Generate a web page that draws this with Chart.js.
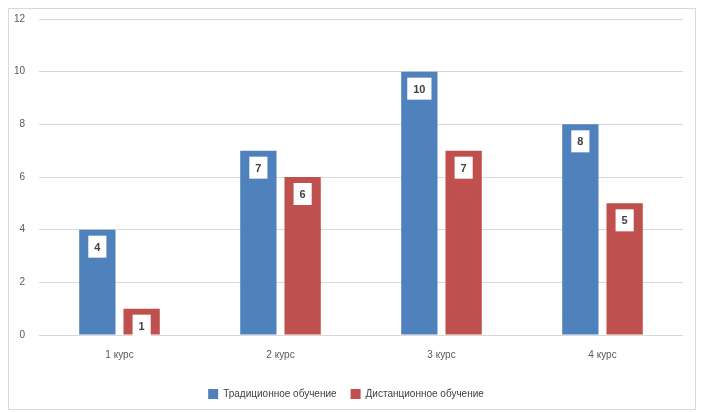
<!DOCTYPE html>
<html>
<head>
<meta charset="utf-8">
<script src="https://cdn.jsdelivr.net/npm/chart.js@4"></script>
<style>
    body { margin: 0; background: #fff; }
    #wrap { position: absolute; left: 8px; top: 8px; width: 688px; height: 402px; border: 1px solid #d9d9d9; box-sizing: border-box; overflow: hidden; }
    canvas { display: block; margin-top: -10px; }
</style>
</head>
<body>
<div id="wrap"><canvas id="kursChart" width="686" height="410"></canvas></div>
<script>
const kursy = ['1 курс', '2 курс', '3 курс', '4 курс']
const tradicionnoe = [4, 7, 10, 8]
const distancionnoe = [1, 6, 7, 5]
const yTicks = [0, 2, 4, 6, 8, 10, 12]

// white label boxes inside the top of each bar
const boxLabels = {
    id: 'boxLabels',
    afterDatasetsDraw(chart) {
        const ctx = chart.ctx
        ctx.save()
        ctx.font = 'bold 11px "Liberation Sans", Arial, sans-serif'
        ctx.textAlign = 'center'
        ctx.textBaseline = 'middle'
        chart.data.datasets.forEach((ds, i) => {
            chart.getDatasetMeta(i).data.forEach((bar, j) => {
                const txt = String(ds.data[j])
                const w = ctx.measureText(txt).width + 12
                const h = 22
                const top = bar.y + 6
                ctx.fillStyle = '#ffffff'
                ctx.fillRect(bar.x - w / 2, top, w, h)
                ctx.fillStyle = '#404040'
                ctx.fillText(txt, bar.x, top + h / 2 + 1)
            })
        })
        ctx.restore()
    }
}

new Chart(document.getElementById('kursChart'), {
    type: 'bar',
    data: {
        labels: kursy,
        datasets: [{
            label: 'Традиционное обучение',
            data: tradicionnoe,
            backgroundColor: '#4f81bd',
            categoryPercentage: 0.55,
            barPercentage: 0.82
        }, {
            label: 'Дистанционное обучение',
            data: distancionnoe,
            backgroundColor: '#c0504d',
            categoryPercentage: 0.55,
            barPercentage: 0.82
        }]
    },
    options: {
        responsive: false,
        animation: false,
        layout: { padding: { left: 0, right: 12, top: 0, bottom: 0 } },
        plugins: {
            tooltip: { enabled: false },
            legend: {
                position: 'bottom',
                labels: {
                    boxWidth: 10,
                    boxHeight: 10,
                    padding: 14,
                    color: '#404040',
                    font: { size: 10, family: '"Liberation Sans", Arial, sans-serif' }
                }
            }
        },
        scales: {
            x: {
                grid: { display: false },
                border: { display: false },
                afterFit: axis => { axis.height += 8 },
                ticks: { color: '#595959', font: { size: 10, family: '"Liberation Sans", Arial, sans-serif' }, padding: 6 }
            },
            y: {
                min: 0,
                max: 12,
                afterBuildTicks: axis => { axis.ticks = yTicks.map(v => ({ value: v })) },
                afterFit: axis => { axis.width = 30 },
                grid: { color: '#d9d9d9', lineWidth: 1, drawTicks: false },
                border: { display: false },
                ticks: { color: '#595959', font: { size: 10, family: '"Liberation Sans", Arial, sans-serif' }, padding: 14 }
            }
        }
    },
    plugins: [boxLabels]
})
</script>
</body>
</html>
